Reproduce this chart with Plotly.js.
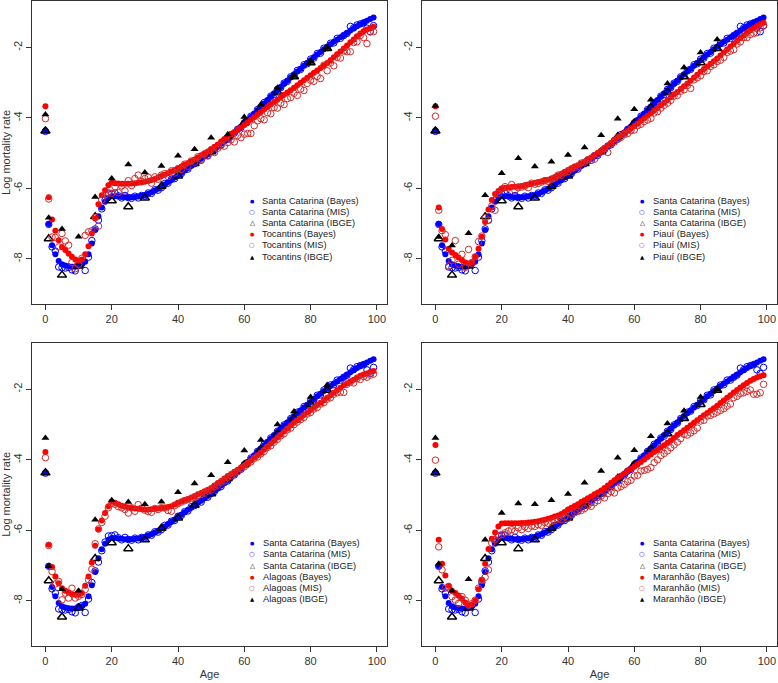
<!DOCTYPE html>
<html>
<head>
<meta charset="utf-8">
<script src="https://cdn.plot.ly/plotly-3.0.1.min.js"></script>
<style>html,body{margin:0;padding:0;background:#fff;}#chart{width:778px;height:683px;}</style>
</head>
<body>
<div id="chart"></div>
<script>
const ages = [0,1,2,3,4,5,6,7,8,9,10,11,12,13,14,15,16,17,18,19,20,21,22,23,24,25,26,27,28,29,30,31,32,33,34,35,36,37,38,39,40,41,42,43,44,45,46,47,48,49,50,51,52,53,54,55,56,57,58,59,60,61,62,63,64,65,66,67,68,69,70,71,72,73,74,75,76,77,78,79,80,81,82,83,84,85,86,87,88,89,90,91,92,93,94,95,96,97,98,99];
const ibgeAges = [0,1,5,10,15,20,25,30,35,40,45,50,55,60,65,70,75,80,85];

const scBayes = [-4.35,-7.01,-7.61,-7.87,-8.06,-8.15,-8.19,-8.21,-8.22,-8.22,-8.19,-8.15,-8.08,-7.87,-7.56,-7.18,-6.79,-6.54,-6.38,-6.27,-6.22,-6.22,-6.23,-6.24,-6.25,-6.25,-6.25,-6.24,-6.23,-6.21,-6.19,-6.15,-6.11,-6.06,-6.01,-5.95,-5.89,-5.82,-5.76,-5.69,-5.62,-5.56,-5.49,-5.42,-5.36,-5.29,-5.22,-5.16,-5.09,-5.03,-4.96,-4.88,-4.81,-4.73,-4.66,-4.58,-4.50,-4.41,-4.33,-4.25,-4.16,-4.06,-3.97,-3.87,-3.78,-3.68,-3.59,-3.49,-3.40,-3.30,-3.21,-3.12,-3.03,-2.94,-2.85,-2.76,-2.68,-2.60,-2.52,-2.44,-2.36,-2.28,-2.20,-2.13,-2.05,-1.98,-1.91,-1.84,-1.78,-1.71,-1.65,-1.59,-1.52,-1.46,-1.40,-1.34,-1.29,-1.24,-1.19,-1.15];
const scMis = [-4.38,-7.02,-7.66,-7.78,-8.23,-8.25,-8.26,-8.24,-8.31,-8.34,-8.17,-8.13,-8.33,-7.95,-7.48,-7.15,-6.90,-6.58,-6.33,-6.16,-6.15,-6.13,-6.21,-6.27,-6.20,-6.26,-6.28,-6.22,-6.27,-6.20,-6.21,-6.13,-6.14,-6.04,-6.05,-5.98,-5.86,-5.85,-5.74,-5.72,-5.60,-5.58,-5.47,-5.45,-5.33,-5.30,-5.19,-5.20,-5.07,-5.06,-4.95,-4.90,-4.80,-4.76,-4.64,-4.60,-4.47,-4.43,-4.32,-4.27,-4.14,-4.08,-3.95,-3.90,-3.76,-3.70,-3.56,-3.52,-3.38,-3.33,-3.19,-3.14,-3.01,-2.96,-2.83,-2.79,-2.65,-2.62,-2.49,-2.46,-2.33,-2.30,-2.17,-2.16,-2.02,-2.00,-1.88,-1.87,-1.74,-1.74,-1.66,-1.60,-1.40,-1.44,-1.36,-1.33,-1.30,-1.45,-1.55,-1.38];
const scIbge = [-4.37,-7.43,-8.46,-8.20,-6.80,-6.35,-6.52,-6.27,-5.94,-5.65,-5.29,-4.96,-4.53,-4.14,-3.70,-3.26,-2.83,-2.43,-2.03];

const toBayes = [-3.67,-6.25,-6.88,-7.20,-7.47,-7.66,-7.75,-7.85,-7.94,-8.02,-8.05,-8.02,-7.87,-7.64,-7.28,-6.85,-6.45,-6.19,-6.05,-5.91,-5.84,-5.85,-5.86,-5.87,-5.87,-5.87,-5.86,-5.85,-5.84,-5.83,-5.81,-5.79,-5.76,-5.73,-5.69,-5.65,-5.61,-5.57,-5.52,-5.48,-5.43,-5.38,-5.33,-5.28,-5.23,-5.18,-5.12,-5.06,-5.01,-4.95,-4.89,-4.82,-4.75,-4.67,-4.60,-4.53,-4.46,-4.40,-4.33,-4.27,-4.20,-4.13,-4.05,-3.98,-3.90,-3.83,-3.76,-3.69,-3.62,-3.55,-3.48,-3.41,-3.34,-3.28,-3.21,-3.14,-3.07,-3.00,-2.93,-2.86,-2.79,-2.72,-2.65,-2.58,-2.51,-2.44,-2.36,-2.28,-2.19,-2.11,-2.03,-1.94,-1.85,-1.77,-1.68,-1.60,-1.54,-1.49,-1.45,-1.41];
const toMis = [-4.02,-6.30,-7.38,-7.39,-7.66,-7.28,-7.49,-7.61,-8.10,-8.28,-8.16,-7.98,-7.33,-7.23,-7.20,-6.82,-7.07,-6.33,-6.18,-6.12,-6.14,-5.95,-6.12,-5.93,-6.07,-5.78,-5.92,-5.72,-5.62,-5.80,-5.72,-5.68,-5.85,-5.67,-5.74,-5.62,-5.58,-5.66,-5.50,-5.56,-5.44,-5.46,-5.31,-5.37,-5.22,-5.26,-5.10,-5.17,-5.02,-5.08,-4.90,-4.98,-4.86,-4.78,-4.80,-4.70,-4.62,-4.68,-4.50,-4.56,-4.46,-4.44,-4.44,-4.22,-4.08,-4.02,-4.05,-3.85,-3.88,-3.70,-3.72,-3.58,-3.62,-3.45,-3.42,-3.30,-3.36,-3.18,-3.22,-3.02,-2.93,-2.96,-2.82,-2.88,-2.50,-2.66,-2.44,-2.52,-2.28,-2.30,-2.10,-2.12,-2.12,-1.86,-1.84,-1.66,-1.72,-1.89,-1.56,-1.55];
const toIbge = [-3.90,-6.83,-7.15,-7.37,-6.24,-5.72,-5.32,-5.55,-5.36,-5.07,-4.89,-4.56,-4.47,-3.97,-3.62,-3.14,-2.81,-2.41,-2.01];

const piBayes = [-3.67,-6.54,-7.15,-7.45,-7.71,-7.82,-7.89,-7.96,-8.03,-8.10,-8.13,-8.09,-7.94,-7.71,-7.37,-6.95,-6.60,-6.33,-6.16,-6.07,-6.00,-5.98,-5.97,-5.96,-5.95,-5.94,-5.93,-5.91,-5.89,-5.87,-5.84,-5.82,-5.80,-5.77,-5.75,-5.72,-5.68,-5.63,-5.58,-5.53,-5.48,-5.43,-5.38,-5.34,-5.29,-5.24,-5.18,-5.12,-5.06,-4.99,-4.93,-4.85,-4.78,-4.70,-4.62,-4.55,-4.49,-4.42,-4.36,-4.29,-4.23,-4.16,-4.08,-4.01,-3.94,-3.87,-3.79,-3.72,-3.64,-3.57,-3.49,-3.41,-3.33,-3.26,-3.18,-3.10,-3.02,-2.94,-2.85,-2.77,-2.69,-2.61,-2.54,-2.46,-2.39,-2.31,-2.23,-2.14,-2.06,-1.97,-1.89,-1.81,-1.73,-1.66,-1.58,-1.51,-1.45,-1.39,-1.34,-1.30];
const piMis = [-3.95,-6.62,-7.20,-7.31,-8.20,-8.04,-7.48,-8.15,-7.87,-8.24,-7.73,-8.12,-7.94,-7.51,-7.35,-6.83,-6.90,-6.50,-6.62,-6.14,-6.02,-5.95,-5.99,-5.89,-6.06,-5.98,-5.96,-5.93,-5.98,-5.85,-5.88,-5.86,-5.82,-5.78,-5.80,-5.74,-5.70,-5.62,-5.63,-5.55,-5.52,-5.45,-5.40,-5.38,-5.28,-5.26,-5.19,-5.15,-5.17,-5.02,-4.96,-4.87,-4.98,-4.74,-4.68,-4.60,-4.55,-4.47,-4.44,-4.36,-4.34,-4.22,-4.18,-4.10,-4.06,-4.01,-3.86,-3.82,-3.72,-3.64,-3.58,-3.50,-3.38,-3.36,-3.24,-3.20,-3.08,-3.16,-2.92,-2.86,-2.80,-2.68,-2.66,-2.54,-2.49,-2.40,-2.36,-2.28,-2.14,-2.10,-2.06,-1.90,-1.84,-1.72,-1.72,-1.63,-1.60,-1.58,-1.44,-1.39];
const piIbge = [-3.66,-7.38,-7.62,-7.27,-6.19,-5.57,-5.14,-5.38,-5.24,-5.05,-4.84,-4.49,-4.02,-3.75,-3.48,-3.02,-2.57,-2.14,-1.77];

const alBayes = [-3.78,-6.41,-7.04,-7.31,-7.50,-7.64,-7.71,-7.76,-7.81,-7.83,-7.83,-7.78,-7.57,-7.31,-6.91,-6.44,-5.98,-5.72,-5.51,-5.32,-5.18,-5.22,-5.26,-5.30,-5.33,-5.35,-5.37,-5.38,-5.39,-5.40,-5.41,-5.41,-5.40,-5.39,-5.38,-5.37,-5.36,-5.34,-5.32,-5.27,-5.22,-5.18,-5.14,-5.11,-5.07,-5.03,-4.98,-4.94,-4.89,-4.85,-4.80,-4.73,-4.66,-4.60,-4.53,-4.46,-4.40,-4.34,-4.28,-4.22,-4.16,-4.09,-4.02,-3.94,-3.87,-3.80,-3.71,-3.63,-3.54,-3.46,-3.37,-3.29,-3.20,-3.12,-3.03,-2.95,-2.88,-2.81,-2.73,-2.66,-2.59,-2.52,-2.45,-2.38,-2.31,-2.24,-2.17,-2.10,-2.03,-1.96,-1.89,-1.84,-1.78,-1.73,-1.67,-1.62,-1.58,-1.55,-1.51,-1.48];
const alMis = [-3.94,-6.43,-7.17,-7.52,-7.45,-7.97,-7.78,-7.92,-7.64,-7.92,-7.87,-7.82,-7.68,-7.40,-7.10,-6.38,-5.96,-5.78,-5.60,-5.36,-5.24,-5.26,-5.33,-5.36,-5.41,-5.51,-5.36,-5.46,-5.27,-5.37,-5.43,-5.47,-5.49,-5.38,-5.41,-5.36,-5.37,-5.44,-5.46,-5.30,-5.24,-5.20,-5.16,-5.13,-5.10,-5.07,-5.02,-4.98,-4.95,-4.88,-4.86,-4.76,-4.72,-4.64,-4.60,-4.50,-4.46,-4.37,-4.34,-4.25,-4.20,-4.12,-4.06,-3.96,-3.92,-3.83,-3.76,-3.65,-3.60,-3.50,-3.42,-3.32,-3.26,-3.15,-3.10,-3.00,-2.93,-2.86,-2.80,-2.70,-2.66,-2.56,-2.52,-2.42,-2.38,-2.28,-2.24,-2.14,-2.10,-2.08,-2.09,-1.86,-1.80,-1.82,-1.70,-1.72,-1.64,-1.66,-1.60,-1.57];
const alIbge = [-3.38,-7.02,-7.67,-7.71,-5.70,-5.15,-5.20,-5.26,-5.19,-4.92,-4.67,-4.44,-4.07,-3.74,-3.44,-3.00,-2.63,-2.22,-1.88];

const maBayes = [-3.58,-6.27,-6.95,-7.28,-7.57,-7.71,-7.78,-7.85,-7.94,-8.05,-8.13,-8.10,-8.00,-7.67,-7.40,-6.95,-6.53,-6.24,-6.06,-5.89,-5.81,-5.80,-5.80,-5.80,-5.80,-5.80,-5.79,-5.79,-5.78,-5.77,-5.76,-5.74,-5.72,-5.70,-5.67,-5.64,-5.61,-5.58,-5.54,-5.48,-5.41,-5.36,-5.31,-5.26,-5.20,-5.15,-5.09,-5.04,-4.98,-4.93,-4.87,-4.80,-4.73,-4.65,-4.58,-4.51,-4.45,-4.39,-4.32,-4.26,-4.20,-4.13,-4.06,-3.99,-3.92,-3.85,-3.78,-3.72,-3.65,-3.59,-3.52,-3.45,-3.38,-3.30,-3.23,-3.16,-3.09,-3.02,-2.95,-2.88,-2.81,-2.74,-2.67,-2.60,-2.54,-2.47,-2.39,-2.32,-2.24,-2.17,-2.09,-2.02,-1.95,-1.89,-1.82,-1.76,-1.71,-1.67,-1.63,-1.60];
const maMis = [-4.01,-6.47,-7.12,-7.64,-7.60,-7.88,-7.98,-8.07,-7.88,-7.98,-8.12,-8.08,-7.98,-7.64,-7.42,-7.33,-7.12,-6.36,-6.26,-6.15,-6.12,-6.07,-6.02,-5.98,-6.02,-5.93,-5.98,-5.90,-5.95,-5.88,-5.89,-5.84,-5.86,-5.78,-5.80,-5.75,-5.72,-5.68,-5.70,-5.62,-5.66,-5.55,-5.50,-5.46,-5.44,-5.38,-5.30,-5.32,-5.22,-5.16,-5.03,-5.08,-4.96,-4.90,-4.94,-4.80,-4.76,-4.70,-4.62,-4.58,-4.46,-4.44,-4.32,-4.30,-4.27,-4.22,-4.08,-4.00,-3.88,-3.82,-3.75,-3.66,-3.58,-3.50,-3.40,-3.28,-3.30,-3.24,-3.18,-3.10,-2.90,-2.88,-2.76,-2.74,-2.70,-2.65,-2.60,-2.55,-2.48,-2.42,-2.24,-2.20,-2.12,-2.10,-2.06,-2.02,-2.14,-2.14,-2.10,-1.86];
const maIbge = [-3.38,-6.95,-7.71,-7.39,-6.27,-5.51,-5.24,-5.26,-5.15,-4.97,-4.65,-4.32,-3.94,-3.73,-3.33,-2.97,-2.61,-2.22,-2.00];

const states = ['Tocantins','Piauí','Alagoas','Maranhão'];
const refState = 'Santa Catarina';
const xTicks = [0,20,40,60,80,100];
const yTicks = [-2,-4,-6,-8];
const yTickText = ['-2','-4','-6','-8'];

const BLUE = '#0000ff', RED = '#ff0000', MISRED = '#d42a2a', BLACK = '#000000';
const FONT = 'Liberation Sans, Arial, sans-serif';

const stateData = [
  [toBayes, toMis, toIbge],
  [piBayes, piMis, piIbge],
  [alBayes, alMis, alIbge],
  [maBayes, maMis, maIbge]
];

const traces = [];
stateData.forEach((d, i) => {
  const sx = i === 0 ? 'x' : 'x' + (i + 1);
  const sy = i === 0 ? 'y' : 'y' + (i + 1);
  const common = {type: 'scatter', mode: 'markers', xaxis: sx, yaxis: sy, showlegend: false, hoverinfo: 'x+y+name'};
  traces.push(Object.assign({}, common, {name: refState + ' (Bayes)', x: ages, y: scBayes,
    marker: {symbol: 'circle', size: 6, color: BLUE, line: {width: 0}}}));
  traces.push(Object.assign({}, common, {name: refState + ' (MIS)', x: ages, y: scMis,
    marker: {symbol: 'circle-open', size: 6.5, color: BLUE, line: {width: 1, color: BLUE}}}));
  traces.push(Object.assign({}, common, {name: refState + ' (IBGE)', x: ibgeAges, y: scIbge,
    marker: {symbol: 'triangle-up-open', size: 8, color: BLACK, line: {width: 1.5, color: BLACK}}}));
  traces.push(Object.assign({}, common, {name: states[i] + ' (Bayes)', x: ages, y: d[0],
    marker: {symbol: 'circle', size: 6, color: RED, line: {width: 0}}}));
  traces.push(Object.assign({}, common, {name: states[i] + ' (MIS)', x: ages, y: d[1],
    marker: {symbol: 'circle-open', size: 6.5, color: MISRED, line: {width: 1, color: MISRED}}}));
  traces.push(Object.assign({}, common, {name: states[i] + ' (IBGE)', x: ibgeAges, y: d[2],
    marker: {symbol: 'triangle-up', size: 7, color: BLACK, line: {width: 0}}}));
});

const W = 778, H = 683;
const xDom = [[32.3 / W, 386.7 / W], [422.3 / W, 776.7 / W]];
const yDom = [[1 - 304 / H, 1 - 1 / H], [1 - 646 / H, 1 - 342.7 / H]];

function xAxis(dom, anchor, title) {
  const a = {domain: dom, anchor: anchor, range: [-3.96, 102.96], tickvals: xTicks, ticktext: xTicks.map(String),
    ticks: 'outside', ticklen: 5, tickwidth: 1, tickcolor: '#333', showline: true, mirror: true, linecolor: '#333', linewidth: 1,
    showgrid: false, zeroline: false, tickfont: {family: FONT, size: 11, color: '#333'}};
  if (title) a.title = {text: title, font: {family: FONT, size: 11, color: '#333'}, standoff: 4};
  return a;
}
function yAxis(dom, anchor, title) {
  const a = {domain: dom, anchor: anchor, range: [-9.28, -0.68], tickvals: yTicks, ticktext: yTickText, tickangle: -90,
    ticks: 'outside', ticklen: 5, tickwidth: 1, tickcolor: '#333', showline: true, mirror: true, linecolor: '#333', linewidth: 1,
    showgrid: false, zeroline: false, tickfont: {family: FONT, size: 11, color: '#333'}};
  if (title) a.title = {text: title, font: {family: FONT, size: 11, color: '#333'}, standoff: 4};
  return a;
}

const annotations = [];
const legendPos = [
  {mx: 252.2, tx: 261.2, y0: 201.0},
  {mx: 642.3, tx: 651.5, y0: 201.0},
  {mx: 252.3, tx: 261.5, y0: 543.3},
  {mx: 642.3, tx: 651.5, y0: 543.3}
];
const rowGap = 11.1;
states.forEach((s, i) => {
  const p = legendPos[i];
  const labels = [refState + ' (Bayes)', refState + ' (MIS)', refState + ' (IBGE)', s + ' (Bayes)', s + ' (MIS)', s + ' (IBGE)'];
  const glyphs = [['●', BLUE, 5], ['○', BLUE, 6.5], ['△', BLACK, 6.5], ['●', RED, 5], ['○', MISRED, 6.5], ['▲', BLACK, 5.5]];
  labels.forEach((lab, k) => {
    const yc = 1 - (p.y0 + k * rowGap) / H;
    annotations.push({xref: 'paper', yref: 'paper', x: p.tx / W, y: yc, xanchor: 'left', yanchor: 'middle',
      showarrow: false, align: 'left', text: lab, font: {family: FONT, size: 9.3, color: '#222'}, borderpad: 0});
    annotations.push({xref: 'paper', yref: 'paper', x: p.mx / W, y: yc, xanchor: 'center', yanchor: 'middle',
      showarrow: false, align: 'center', text: '<b>' + glyphs[k][0] + '</b>',
      font: {family: 'DejaVu Sans, sans-serif', size: glyphs[k][2], color: glyphs[k][1]}, borderpad: 0});
  });
});

const layout = {
  width: W, height: H, margin: {l: 0, r: 0, t: 0, b: 0}, paper_bgcolor: '#fff', plot_bgcolor: '#fff',
  showlegend: false,
  xaxis: xAxis(xDom[0], 'y'), yaxis: yAxis(yDom[0], 'x', 'Log mortality rate'),
  xaxis2: xAxis(xDom[1], 'y2'), yaxis2: yAxis(yDom[0], 'x2'),
  xaxis3: xAxis(xDom[0], 'y3', 'Age'), yaxis3: yAxis(yDom[1], 'x3', 'Log mortality rate'),
  xaxis4: xAxis(xDom[1], 'y4', 'Age'), yaxis4: yAxis(yDom[1], 'x4'),
  annotations: annotations
};

Plotly.newPlot('chart', traces, layout, {displayModeBar: false, staticPlot: true});
</script>
</body>
</html>
